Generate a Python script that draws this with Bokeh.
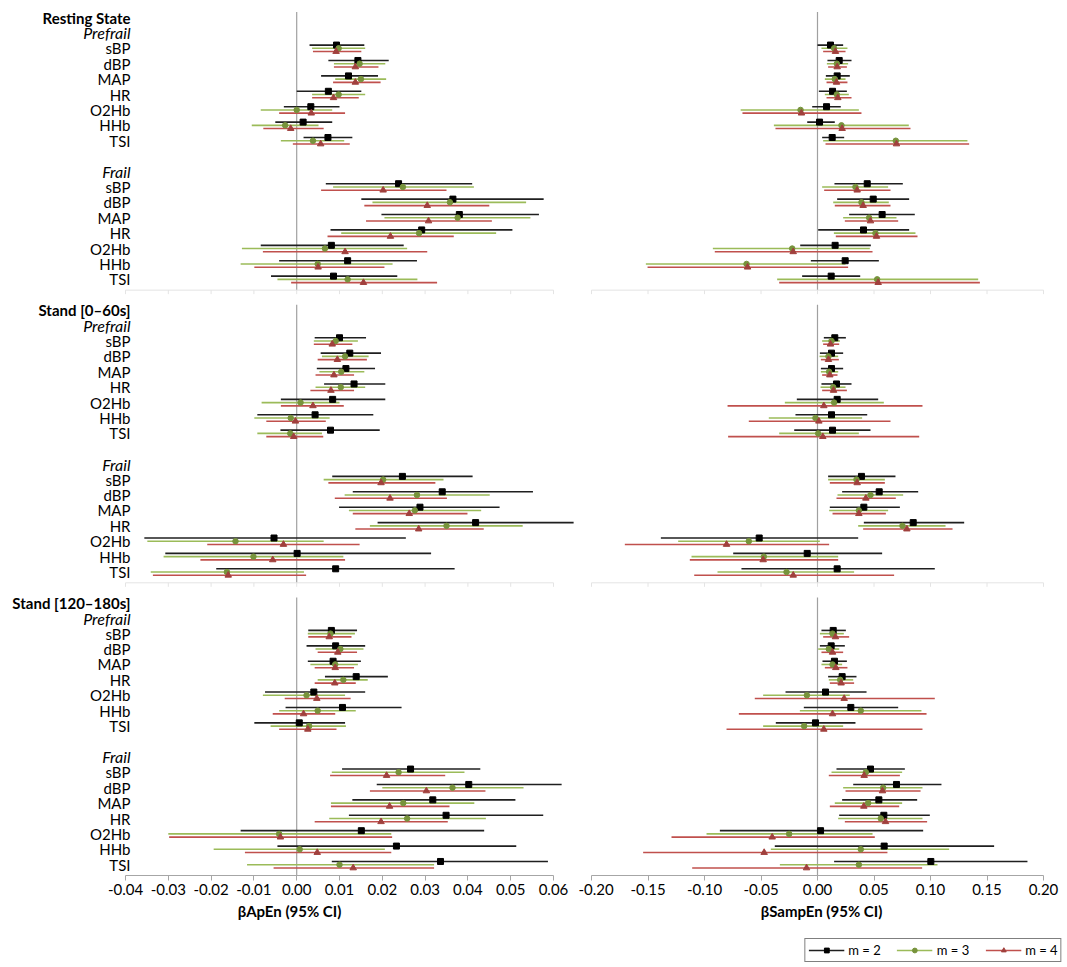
from bokeh.plotting import figure
from bokeh.models import Range1d, FixedTicker, NumeralTickFormatter, Legend, LegendItem, Spacer
from bokeh.layouts import row, column
from bokeh.embed import file_html
from bokeh.resources import INLINE
from bokeh.core.properties import value

# ---------------- data ----------------
VARIABLES = ["sBP", "dBP", "MAP", "HR", "O2Hb", "HHb", "TSI"]
SECTIONS = ["Resting State", "Stand [0\u201360s]", "Stand [120\u2013180s]"]
GROUPS = ["Prefrail", "Frail"]
SERIES = ["m = 2", "m = 3", "m = 4"]
APEN_TICKS = [-0.04, -0.03, -0.02, -0.01, 0.0, 0.01, 0.02, 0.03, 0.04, 0.05, 0.06]
SAMPEN_TICKS = [-0.20, -0.15, -0.10, -0.05, 0.0, 0.05, 0.10, 0.15, 0.20]

# each entry: (estimate, lower 95% CI, upper 95% CI) in VARIABLES order
# ---- beta ApEn ----
apen_rest_pre_m2 = [(0.0093, 0.0030, 0.0158), (0.0143, 0.0074, 0.0215), (0.0121, 0.0057, 0.0190), (0.0074, 0.0000, 0.0151), (0.0033, -0.0030, 0.0100), (0.0015, -0.0050, 0.0083), (0.0073, 0.0016, 0.0130)]
apen_rest_pre_m3 = [(0.0098, 0.0036, 0.0160), (0.0147, 0.0087, 0.0207), (0.0150, 0.0090, 0.0209), (0.0098, 0.0036, 0.0160), (0.0000, -0.0084, 0.0083), (-0.0027, -0.0105, 0.0051), (0.0038, -0.0037, 0.0111)]
apen_rest_pre_m4 = [(0.0092, 0.0038, 0.0151), (0.0137, 0.0087, 0.0191), (0.0137, 0.0085, 0.0196), (0.0086, 0.0036, 0.0145), (0.0034, -0.0041, 0.0113), (-0.0014, -0.0078, 0.0063), (0.0056, -0.0009, 0.0124)]
apen_rest_fr_m2 = [(0.0238, 0.0068, 0.0410), (0.0365, 0.0151, 0.0577), (0.0380, 0.0198, 0.0566), (0.0292, 0.0079, 0.0504), (0.0081, -0.0084, 0.0250), (0.0119, -0.0041, 0.0281), (0.0086, -0.0060, 0.0235)]
apen_rest_fr_m3 = [(0.0248, 0.0085, 0.0414), (0.0358, 0.0177, 0.0536), (0.0376, 0.0205, 0.0546), (0.0286, 0.0104, 0.0466), (0.0066, -0.0128, 0.0258), (0.0049, -0.0131, 0.0224), (0.0119, -0.0045, 0.0282)]
apen_rest_fr_m4 = [(0.0202, 0.0057, 0.0350), (0.0305, 0.0158, 0.0450), (0.0308, 0.0162, 0.0456), (0.0219, 0.0072, 0.0367), (0.0113, -0.0079, 0.0305), (0.0050, -0.0099, 0.0205), (0.0156, -0.0013, 0.0328)]
apen_st0_pre_m2 = [(0.0100, 0.0042, 0.0162), (0.0124, 0.0056, 0.0197), (0.0115, 0.0047, 0.0183), (0.0134, 0.0064, 0.0207), (0.0084, -0.0037, 0.0207), (0.0043, -0.0092, 0.0179), (0.0079, -0.0038, 0.0194)]
apen_st0_pre_m3 = [(0.0091, 0.0040, 0.0143), (0.0113, 0.0059, 0.0168), (0.0104, 0.0053, 0.0158), (0.0103, 0.0044, 0.0160), (0.0009, -0.0082, 0.0100), (-0.0014, -0.0099, 0.0077), (-0.0015, -0.0092, 0.0059)]
apen_st0_pre_m4 = [(0.0083, 0.0040, 0.0130), (0.0095, 0.0049, 0.0164), (0.0087, 0.0044, 0.0134), (0.0080, 0.0032, 0.0134), (0.0038, -0.0037, 0.0110), (-0.0003, -0.0071, 0.0068), (-0.0007, -0.0071, 0.0062)]
apen_st0_fr_m2 = [(0.0247, 0.0083, 0.0411), (0.0340, 0.0131, 0.0552), (0.0288, 0.0099, 0.0474), (0.0418, 0.0189, 0.0647), (-0.0053, -0.0356, 0.0255), (0.0001, -0.0307, 0.0314), (0.0091, -0.0188, 0.0369)]
apen_st0_fr_m3 = [(0.0202, 0.0063, 0.0343), (0.0281, 0.0112, 0.0451), (0.0276, 0.0122, 0.0431), (0.0350, 0.0171, 0.0528), (-0.0143, -0.0349, 0.0063), (-0.0101, -0.0311, 0.0109), (-0.0163, -0.0341, 0.0017)]
apen_st0_fr_m4 = [(0.0197, 0.0074, 0.0324), (0.0218, 0.0089, 0.0351), (0.0263, 0.0131, 0.0399), (0.0285, 0.0137, 0.0437), (-0.0031, -0.0209, 0.0147), (-0.0056, -0.0225, 0.0113), (-0.0160, -0.0336, 0.0022)]
apen_st120_pre_m2 = [(0.0081, 0.0027, 0.0141), (0.0091, 0.0023, 0.0160), (0.0085, 0.0026, 0.0150), (0.0139, 0.0066, 0.0213), (0.0040, -0.0074, 0.0160), (0.0107, -0.0026, 0.0245), (0.0006, -0.0099, 0.0113)]
apen_st120_pre_m3 = [(0.0079, 0.0026, 0.0136), (0.0102, 0.0044, 0.0156), (0.0090, 0.0032, 0.0143), (0.0109, 0.0049, 0.0166), (0.0023, -0.0079, 0.0113), (0.0049, -0.0041, 0.0138), (0.0029, -0.0061, 0.0115)]
apen_st120_pre_m4 = [(0.0076, 0.0027, 0.0128), (0.0096, 0.0049, 0.0141), (0.0090, 0.0042, 0.0134), (0.0089, 0.0042, 0.0138), (0.0047, -0.0028, 0.0126), (0.0016, -0.0056, 0.0090), (0.0026, -0.0041, 0.0093)]
apen_st120_fr_m2 = [(0.0266, 0.0106, 0.0429), (0.0402, 0.0187, 0.0619), (0.0318, 0.0130, 0.0511), (0.0349, 0.0122, 0.0576), (0.0151, -0.0131, 0.0438), (0.0233, -0.0045, 0.0513), (0.0336, 0.0082, 0.0587)]
apen_st120_fr_m3 = [(0.0238, 0.0082, 0.0392), (0.0364, 0.0200, 0.0530), (0.0249, 0.0080, 0.0415), (0.0258, 0.0076, 0.0442), (-0.0041, -0.0300, 0.0221), (0.0007, -0.0194, 0.0206), (0.0100, -0.0116, 0.0321)]
apen_st120_fr_m4 = [(0.0210, 0.0078, 0.0347), (0.0303, 0.0171, 0.0441), (0.0217, 0.0080, 0.0357), (0.0197, 0.0042, 0.0353), (-0.0038, -0.0298, 0.0223), (0.0048, -0.0121, 0.0221), (0.0132, -0.0054, 0.0321)]

# ---- beta SampEn ----
sampen_rest_pre_m2 = [(0.0115, 0.0000, 0.0227), (0.0192, 0.0088, 0.0301), (0.0174, 0.0074, 0.0286), (0.0133, 0.0012, 0.0260), (0.0080, -0.0047, 0.0206), (0.0018, -0.0091, 0.0153), (0.0130, 0.0041, 0.0236)]
sampen_rest_pre_m3 = [(0.0147, 0.0035, 0.0265), (0.0171, 0.0083, 0.0271), (0.0153, 0.0065, 0.0248), (0.0171, 0.0065, 0.0277), (-0.0150, -0.0680, 0.0366), (0.0212, -0.0386, 0.0808), (0.0693, 0.0050, 0.1327)]
sampen_rest_pre_m4 = [(0.0159, 0.0050, 0.0248), (0.0174, 0.0094, 0.0260), (0.0168, 0.0080, 0.0265), (0.0180, 0.0080, 0.0301), (-0.0142, -0.0664, 0.0389), (0.0218, -0.0372, 0.0823), (0.0699, 0.0071, 0.1342)]
sampen_rest_fr_m2 = [(0.0440, 0.0150, 0.0755), (0.0493, 0.0174, 0.0811), (0.0572, 0.0280, 0.0861), (0.0407, 0.0006, 0.0811), (0.0156, -0.0153, 0.0472), (0.0245, -0.0059, 0.0543), (0.0121, -0.0136, 0.0378)]
sampen_rest_fr_m3 = [(0.0336, 0.0041, 0.0625), (0.0389, 0.0139, 0.0631), (0.0457, 0.0227, 0.0699), (0.0513, 0.0145, 0.0867), (-0.0224, -0.0926, 0.0463), (-0.0628, -0.1519, 0.0248), (0.0528, -0.0357, 0.1422)]
sampen_rest_fr_m4 = [(0.0351, 0.0059, 0.0646), (0.0404, 0.0153, 0.0646), (0.0469, 0.0242, 0.0714), (0.0522, 0.0162, 0.0885), (-0.0215, -0.0909, 0.0487), (-0.0619, -0.1504, 0.0271), (0.0537, -0.0339, 0.1437)]
sampen_st0_pre_m2 = [(0.0153, 0.0056, 0.0251), (0.0124, 0.0021, 0.0227), (0.0124, 0.0030, 0.0227), (0.0168, 0.0035, 0.0301), (0.0174, -0.0183, 0.0537), (0.0124, -0.0195, 0.0440), (0.0133, -0.0206, 0.0469)]
sampen_st0_pre_m3 = [(0.0124, 0.0041, 0.0198), (0.0097, 0.0018, 0.0183), (0.0103, 0.0030, 0.0183), (0.0139, 0.0027, 0.0248), (0.0147, -0.0289, 0.0587), (-0.0018, -0.0431, 0.0395), (0.0006, -0.0339, 0.0366)]
sampen_st0_pre_m4 = [(0.0115, 0.0050, 0.0192), (0.0097, 0.0030, 0.0189), (0.0109, 0.0041, 0.0177), (0.0142, 0.0041, 0.0260), (0.0056, -0.0796, 0.0929), (0.0012, -0.0608, 0.0646), (0.0047, -0.0791, 0.0900)]
sampen_st0_fr_m2 = [(0.0389, 0.0094, 0.0690), (0.0546, 0.0218, 0.0891), (0.0410, 0.0109, 0.0729), (0.0847, 0.0410, 0.1298), (-0.0516, -0.1386, 0.0360), (-0.0091, -0.0746, 0.0572), (0.0174, -0.0673, 0.1038)]
sampen_st0_fr_m3 = [(0.0345, 0.0094, 0.0596), (0.0469, 0.0177, 0.0758), (0.0366, 0.0103, 0.0625), (0.0752, 0.0360, 0.1133), (-0.0608, -0.1233, 0.0021), (-0.0475, -0.1115, 0.0183), (-0.0274, -0.0885, 0.0324)]
sampen_st0_fr_m4 = [(0.0351, 0.0109, 0.0596), (0.0428, 0.0168, 0.0693), (0.0366, 0.0133, 0.0605), (0.0791, 0.0404, 0.1195), (-0.0805, -0.1705, 0.0103), (-0.0481, -0.1130, 0.0183), (-0.0215, -0.1091, 0.0678)]
sampen_st120_pre_m2 = [(0.0139, 0.0035, 0.0251), (0.0121, 0.0021, 0.0242), (0.0150, 0.0044, 0.0260), (0.0218, 0.0094, 0.0345), (0.0071, -0.0283, 0.0434), (0.0295, -0.0121, 0.0714), (-0.0018, -0.0369, 0.0336)]
sampen_st120_pre_m3 = [(0.0133, 0.0021, 0.0233), (0.0100, 0.0006, 0.0192), (0.0133, 0.0035, 0.0218), (0.0201, 0.0100, 0.0316), (-0.0094, -0.0481, 0.0286), (0.0383, -0.0156, 0.0920), (-0.0118, -0.0481, 0.0227)]
sampen_st120_pre_m4 = [(0.0159, 0.0050, 0.0280), (0.0133, 0.0035, 0.0227), (0.0162, 0.0065, 0.0265), (0.0209, 0.0109, 0.0324), (0.0236, -0.0555, 0.1038), (0.0133, -0.0696, 0.0965), (0.0056, -0.0805, 0.0929)]
sampen_st120_fr_m2 = [(0.0469, 0.0168, 0.0773), (0.0699, 0.0316, 0.1097), (0.0543, 0.0218, 0.0882), (0.0587, 0.0192, 0.0994), (0.0027, -0.0864, 0.0935), (0.0590, -0.0378, 0.1563), (0.1003, 0.0147, 0.1858)]
sampen_st120_fr_m3 = [(0.0428, 0.0124, 0.0749), (0.0581, 0.0227, 0.0929), (0.0448, 0.0153, 0.0749), (0.0560, 0.0183, 0.0929), (-0.0251, -0.0982, 0.0487), (0.0383, -0.0413, 0.1165), (0.0366, -0.0333, 0.1062)]
sampen_st120_fr_m4 = [(0.0413, 0.0100, 0.0729), (0.0575, 0.0248, 0.0912), (0.0410, 0.0109, 0.0723), (0.0602, 0.0242, 0.0970), (-0.0401, -0.1292, 0.0507), (-0.0472, -0.1543, 0.0619), (-0.0097, -0.1109, 0.0926)]

APEN = [
    [[apen_rest_pre_m2, apen_rest_pre_m3, apen_rest_pre_m4], [apen_rest_fr_m2, apen_rest_fr_m3, apen_rest_fr_m4]],
    [[apen_st0_pre_m2, apen_st0_pre_m3, apen_st0_pre_m4], [apen_st0_fr_m2, apen_st0_fr_m3, apen_st0_fr_m4]],
    [[apen_st120_pre_m2, apen_st120_pre_m3, apen_st120_pre_m4], [apen_st120_fr_m2, apen_st120_fr_m3, apen_st120_fr_m4]],
]
SAMPEN = [
    [[sampen_rest_pre_m2, sampen_rest_pre_m3, sampen_rest_pre_m4], [sampen_rest_fr_m2, sampen_rest_fr_m3, sampen_rest_fr_m4]],
    [[sampen_st0_pre_m2, sampen_st0_pre_m3, sampen_st0_pre_m4], [sampen_st0_fr_m2, sampen_st0_fr_m3, sampen_st0_fr_m4]],
    [[sampen_st120_pre_m2, sampen_st120_pre_m3, sampen_st120_pre_m4], [sampen_st120_fr_m2, sampen_st120_fr_m3, sampen_st120_fr_m4]],
]

# ---------------- style / layout ----------------
FONT = "Lato"
LINE_COLORS = ["#1f1f1f", "#9BBB59", "#C0504D"]
MARK_COLORS = ["#000000", "#77933C", "#A0403D"]
MARKERS = ["square", "circle", "triangle"]
MARK_SIZES = [6, 5.5, 6.5]
OFFSETS = [-0.21, 0.0, 0.21]

ROW_PX = 15.4
ROW0_PX = 17.0
Y_TOP = -ROW0_PX / ROW_PX
Y_BOTTOM = 55.7
FRAME_H = int(round((Y_BOTTOM - Y_TOP) * ROW_PX))
SECTION_STEP = 19
AXIS_OFF = 17.7
BOTTOM_BORDER = 62


def make_fig(x_start, x_end, frame_w):
    p = figure(x_range=Range1d(x_start, x_end), y_range=Range1d(Y_BOTTOM, Y_TOP),
               frame_width=frame_w, frame_height=FRAME_H, title=None,
               output_backend="svg", toolbar_location=None, y_axis_location=None,
               min_border_left=0, min_border_right=0, min_border_top=0,
               min_border_bottom=BOTTOM_BORDER)
    p.outline_line_color = None
    p.grid.visible = False
    p.background_fill_color = "white"
    p.border_fill_color = "white"
    return p


def style_axis(p, ticks, label):
    ax = p.xaxis[0]
    ax.ticker = FixedTicker(ticks=ticks)
    ax.bounds = (ticks[0], ticks[-1])
    ax.formatter = NumeralTickFormatter(format="0.00")
    ax.axis_line_color = "#a6a6a6"
    ax.major_tick_line_color = "#a6a6a6"
    ax.minor_tick_line_color = None
    ax.major_tick_out = 5
    ax.major_tick_in = 0
    ax.major_label_text_font = FONT
    ax.major_label_text_font_size = "15px"
    ax.major_label_text_color = "#000000"
    ax.major_label_standoff = 3
    ax.axis_label = label
    ax.axis_label_text_font = FONT
    ax.axis_label_text_font_style = "bold"
    ax.axis_label_text_font_size = "15px"
    ax.axis_label_text_color = "#000000"
    ax.axis_label_standoff = 4


def draw_panel(p, data, ticks):
    tick_len = 4.0 / ROW_PX
    for s in range(len(SECTIONS)):
        base = s * SECTION_STEP
        p.segment(x0=[0], y0=[base - 0.35], x1=[0], y1=[base + AXIS_OFF],
                  line_color="#a0a0a0", line_width=1.2)
        if s < len(SECTIONS) - 1:
            ya = base + AXIS_OFF
            p.segment(x0=[ticks[0]], y0=[ya], x1=[ticks[-1]], y1=[ya],
                      line_color="#e4e4e4", line_width=1)
            p.segment(x0=ticks, y0=[ya] * len(ticks), x1=ticks, y1=[ya + tick_len] * len(ticks),
                      line_color="#e4e4e4", line_width=1)
    for layer in ("seg", "mark"):
        for s in range(len(SECTIONS)):
            base = s * SECTION_STEP
            for g in range(len(GROUPS)):
                first = base + (2 if g == 0 else 11)
                for k in range(len(SERIES)):
                    vals = data[s][g][k]
                    ys = [first + i + OFFSETS[k] for i in range(len(VARIABLES))]
                    est = [v[0] for v in vals]
                    lo = [v[1] for v in vals]
                    hi = [v[2] for v in vals]
                    if layer == "seg":
                        p.segment(x0=lo, y0=ys, x1=hi, y1=ys,
                                  line_color=LINE_COLORS[k], line_width=1.6)
                    else:
                        p.scatter(x=est, y=ys, marker=MARKERS[k], size=MARK_SIZES[k],
                                  fill_color=MARK_COLORS[k], line_color=MARK_COLORS[k])


# left figure (labels + ApEn)
PX_PER_UNIT_L = 4280.0
LEFT_W = 578
XL0 = -0.04 - 125.0 / PX_PER_UNIT_L
XL1 = XL0 + LEFT_W / PX_PER_UNIT_L
p1 = make_fig(XL0, XL1, LEFT_W)
style_axis(p1, APEN_TICKS, "\u03b2ApEn (95% CI)")
draw_panel(p1, APEN, APEN_TICKS)

label_x = XL0 + 130.0 / PX_PER_UNIT_L
title_y, group_y, group_t, var_y, var_t = [], [], [], [], []
for s in range(len(SECTIONS)):
    base = s * SECTION_STEP
    title_y.append(base)
    for g in range(len(GROUPS)):
        gr = base + (1 if g == 0 else 10)
        group_y.append(gr)
        group_t.append(GROUPS[g])
        for i, v in enumerate(VARIABLES):
            var_y.append(gr + 1 + i)
            var_t.append(v)

p1.text(x=[label_x] * len(title_y), y=title_y, text=SECTIONS, text_align="right",
        text_baseline="middle", text_font=value(FONT), text_font_size="15px",
        text_font_style="bold", text_color="#000000")
p1.text(x=[label_x] * len(group_y), y=group_y, text=group_t, text_align="right",
        text_baseline="middle", text_font=value(FONT), text_font_size="16px",
        text_font_style="italic", text_color="#000000")
p1.text(x=[label_x] * len(var_y), y=var_y, text=var_t, text_align="right",
        text_baseline="middle", text_font=value(FONT), text_font_size="15px",
        text_color="#000000")

# right figure (SampEn)
PX_PER_UNIT_R = 1130.0
RIGHT_W = 486
XR0 = -0.20 - 13.0 / PX_PER_UNIT_R
XR1 = XR0 + RIGHT_W / PX_PER_UNIT_R
p2 = make_fig(XR0, XR1, RIGHT_W)
style_axis(p2, SAMPEN_TICKS, "\u03b2SampEn (95% CI)")
draw_panel(p2, SAMPEN, SAMPEN_TICKS)

# legend strip (separate small figure under the right panel)
LEG_W = 262
LEG_H = 26
p3 = figure(x_range=Range1d(0, 1), y_range=Range1d(0, 1), frame_width=LEG_W, frame_height=LEG_H,
            title=None, output_backend="svg", toolbar_location=None,
            x_axis_location=None, y_axis_location=None,
            min_border_left=0, min_border_right=0, min_border_top=0, min_border_bottom=0)
p3.outline_line_color = None
p3.grid.visible = False
items = []
for k in range(len(SERIES)):
    # single off-screen sample so the legend can draw each series' glyphs
    r_seg = p3.segment(x0=[-5], y0=[-5], x1=[-4], y1=[-5], line_color=LINE_COLORS[k], line_width=1.6)
    r_mk = p3.scatter(x=[-5], y=[-5], marker=MARKERS[k], size=MARK_SIZES[k],
                      fill_color=MARK_COLORS[k], line_color=MARK_COLORS[k])
    items.append(LegendItem(label=SERIES[k], renderers=[r_seg, r_mk]))
legend = Legend(items=items, orientation="horizontal", location="center")
legend.border_line_color = "#000000"
legend.border_line_width = 1
legend.padding = 3
legend.margin = 0
legend.spacing = 16
legend.glyph_width = 36
legend.glyph_height = 12
legend.label_text_font = FONT
legend.label_text_font_size = "13px"
legend.label_text_color = "#000000"
legend.label_standoff = 4
legend.background_fill_color = "white"
p3.add_layout(legend)

layout = column(row(p1, p2), row(Spacer(width=802, height=LEG_H), p3))

open("out.html", "w").write(file_html(layout, INLINE))
